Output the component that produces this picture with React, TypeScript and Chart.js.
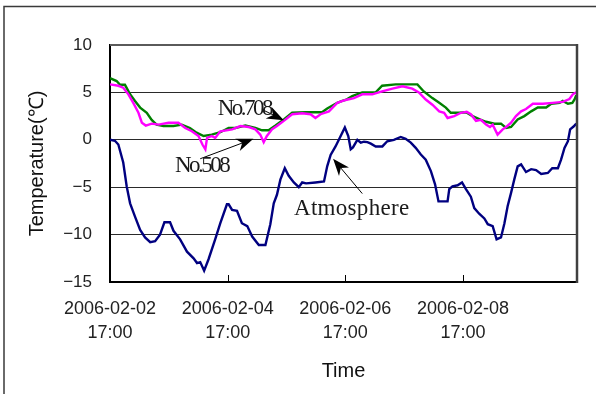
import React, { useEffect, useRef } from "react";
import { Chart, registerables } from "chart.js";

Chart.register(...registerables);

// ---- axis / tick data ----
const X_TICK_HOURS = [0, 48, 96, 144];
const X_TICK_DATES = ["2006-02-02", "2006-02-04", "2006-02-06", "2006-02-08"];
const X_TICK_TIMES = ["17:00", "17:00", "17:00", "17:00"];
const X_MAX_HOURS = 190.5;
const Y_MIN = -15;
const Y_MAX = 10;
const Y_STEP = 5;
const X_TITLE = "Time";
const Y_TITLE = "Temperature(℃)";

// ---- series: hours since 2006-02-02 17:00, temperature (℃) ----
const atmHours = [0, 2, 3.4, 5.4, 6.8, 8.2, 10.2, 12.3, 14.3, 16.4, 18.4, 20.4, 22.2, 24.5, 25.9, 28.6, 31.4, 34.1, 35.5, 36.8, 38.4, 40.2, 42.9, 45, 47.7, 48.4, 49.8, 51.8, 53.8, 56, 58, 60.7, 63.4, 65.4, 66.8, 68.1, 69.5, 71.3, 72.9, 75, 77, 78.4, 80, 83.8, 87.3, 88.6, 90, 92, 94.1, 95.8, 97.2, 98.2, 99.1, 100.9, 102.3, 103.6, 105, 106.4, 108.4, 111.1, 113.1, 115.8, 118.6, 120.6, 122.7, 124.7, 126.8, 128.8, 130.9, 132.6, 134, 137.7, 138.4, 139.7, 141.8, 143.6, 145.2, 147.2, 148.6, 150.6, 152.7, 154.1, 156.1, 157.7, 159.5, 160.9, 162.2, 163.6, 164.9, 166.3, 167.7, 169.7, 171.8, 173.8, 175.9, 178.6, 180.4, 182.7, 184, 185.4, 186.8, 187.7, 189.1, 190.2];
const atmTemps = [0, -0.1, -0.5, -2.4, -4.9, -6.7, -8.1, -9.5, -10.3, -10.8, -10.7, -10.0, -8.7, -8.7, -9.6, -10.5, -11.8, -12.5, -13.0, -12.9, -13.8, -12.6, -10.5, -8.8, -6.8, -6.8, -7.4, -7.5, -8.8, -9.1, -10.2, -11.1, -11.1, -8.9, -6.7, -5.8, -4.2, -3.0, -3.8, -4.5, -5.0, -4.5, -4.6, -4.5, -4.4, -2.8, -1.6, -0.7, 0.4, 1.3, 0.4, -1.0, -0.8, 0, -0.3, -0.2, -0.25, -0.4, -0.7, -0.7, -0.15, 0, 0.3, 0.1, -0.3, -0.85, -1.55, -2.1, -3.3, -4.7, -6.5, -6.5, -5.2, -4.9, -4.8, -4.5, -5.2, -6.0, -7.2, -7.8, -8.3, -8.9, -9.1, -10.5, -10.3, -8.8, -7.0, -5.6, -4.2, -2.8, -2.6, -3.4, -3.1, -3.2, -3.6, -3.5, -3.0, -3.0, -2.1, -0.85, -0.15, 1.1, 1.4, 1.7];

const no708Hours = [0, 2.7, 4.1, 6.1, 8.2, 10.2, 12.3, 15, 17, 19, 21.8, 25.9, 29.3, 32.6, 35.3, 38.2, 41.5, 45, 48.4, 51.1, 55.2, 59.3, 62, 64.7, 67.5, 70.9, 74.3, 79.8, 86.5, 88.6, 92.7, 94.7, 96.1, 98.8, 102.9, 108.4, 111, 116.6, 125.4, 128, 131.5, 134.3, 137, 139, 142.5, 145.2, 147.9, 151.3, 153.4, 156.8, 159.5, 161.6, 163.6, 166.3, 169, 171.8, 174.5, 177.9, 180, 183.4, 184.7, 186.8, 188.6, 189.5, 190.2];
const no708Temps = [6.5, 6.2, 5.8, 5.8, 4.8, 4.1, 3.4, 2.85, 2.1, 1.6, 1.45, 1.45, 1.6, 1.25, 0.75, 0.4, 0.55, 0.8, 1.25, 1.25, 1.5, 1.25, 1.0, 1.0, 1.5, 2.15, 2.85, 2.9, 2.9, 3.3, 3.9, 4.1, 4.2, 4.6, 5.0, 5.0, 5.7, 5.85, 5.85, 5.1, 4.4, 3.9, 3.4, 2.85, 2.85, 2.9, 2.5, 2.1, 1.9, 1.7, 1.7, 1.25, 1.35, 2.15, 2.5, 3.0, 3.4, 3.4, 3.8, 3.9, 4.1, 3.8, 3.9, 4.25, 4.7];

const no508Hours = [0, 3.4, 5.4, 7.5, 9.5, 11.6, 13, 14.6, 17, 19.8, 23.9, 27.9, 30.7, 33.4, 36.1, 37.7, 38.9, 39.6, 41.5, 42.9, 45, 47.5, 49.8, 53.2, 56.6, 59.3, 61.3, 62.7, 64, 66.1, 68.1, 70.9, 74.3, 78.4, 81.8, 83.8, 85.9, 89.3, 92.7, 96.1, 99.5, 102.9, 107, 111, 115.2, 119.3, 123.3, 126, 128.8, 131.5, 134.3, 136.3, 137.7, 140.4, 143.2, 145.5, 147.2, 149.3, 151.3, 153.4, 155, 156.1, 158.1, 160.2, 161.6, 163.6, 165.6, 167.7, 169.7, 172.5, 176.6, 180.6, 184.7, 187.4, 188.8, 190.2];
const no508Temps = [5.85, 5.7, 5.5, 4.8, 3.9, 2.85, 1.8, 1.5, 1.7, 1.6, 1.8, 1.8, 1.25, 0.9, 0.4, -0.5, -1.0, 0.2, 0.4, 0.2, 0.9, 1.0, 1.1, 1.45, 1.35, 1.1, 0.55, -0.25, 0.4, 1.1, 1.45, 2.0, 2.7, 2.8, 2.7, 2.3, 2.7, 3.0, 3.9, 4.2, 4.4, 4.8, 4.8, 5.1, 5.4, 5.65, 5.4, 5.0, 4.25, 3.7, 3.0, 2.85, 2.3, 2.5, 2.85, 2.95, 2.7, 2.0, 2.1, 1.6, 1.35, 1.6, 0.55, 1.1, 1.35, 1.8, 2.5, 3.0, 3.25, 3.8, 3.8, 3.9, 4.0, 4.3, 4.8, 5.0];

const SERIES_LABELS = ["No.508", "No.708", "Atmosphere"];
const SERIES_COLORS = ["#FF00FF", "#008000", "#000080"];

// annotation layout (positions in data units: hours, ℃)
const NOTES = [
  { text: "No.708", x: 54.8, y: 3.25, spacing: -2.5, from: [62.0, 3.2], to: [70.9, 2.07] },
  { text: "No.508", x: 37.4, y: -2.75, spacing: -2.5, from: [36.8, -2.0], to: [58.5, 0.1] },
  { text: "Atmosphere", x: 98.6, y: -7.29, spacing: 0.3, from: [102.9, -5.67], to: [91.0, -2.0] },
];

const SANS = "'Liberation Sans', Arial, sans-serif";
const SERIF = "'Liberation Serif', 'Times New Roman', serif";

const toPoints = (xs: number[], ys: number[]) => xs.map((x, i) => ({ x, y: ys[i] }));

function drawArrow(ctx: CanvasRenderingContext2D, x1: number, y1: number, x2: number, y2: number) {
  const ang = Math.atan2(y2 - y1, x2 - x1);
  const len = 17;
  const half = 6.5;
  const notch = 12;
  ctx.save();
  ctx.strokeStyle = "#000";
  ctx.lineWidth = 1;
  ctx.beginPath();
  ctx.moveTo(x1, y1);
  ctx.lineTo(x2 - Math.cos(ang) * notch, y2 - Math.sin(ang) * notch);
  ctx.stroke();
  ctx.translate(x2, y2);
  ctx.rotate(ang);
  ctx.fillStyle = "#000";
  ctx.beginPath();
  ctx.moveTo(0, 0);
  ctx.lineTo(-len, -half);
  ctx.lineTo(-notch, 0);
  ctx.lineTo(-len, half);
  ctx.closePath();
  ctx.fill();
  ctx.restore();
}

const decorPlugin = {
  id: "decor",
  beforeDraw(chart: any) {
    const ctx = chart.ctx as CanvasRenderingContext2D;
    ctx.save();
    ctx.fillStyle = "#fff";
    ctx.fillRect(0, 0, chart.width, chart.height);
    ctx.strokeStyle = "#3a3a3a";
    ctx.lineWidth = 1.5;
    ctx.beginPath();
    ctx.moveTo(4, chart.height);
    ctx.lineTo(4, 6.5);
    ctx.lineTo(chart.width, 6.5);
    ctx.stroke();
    ctx.restore();
  },
  afterDatasetsDraw(chart: any) {
    const ctx = chart.ctx as CanvasRenderingContext2D;
    const { left, right, top, bottom } = chart.chartArea;
    const xs = chart.scales.x;
    const ys = chart.scales.y;
    ctx.save();
    // plot frame top & right
    ctx.strokeStyle = "#5a5a5a";
    ctx.lineWidth = 2;
    ctx.beginPath();
    ctx.moveTo(left, top);
    ctx.lineTo(right, top);
    ctx.stroke();
    ctx.strokeStyle = "#404040";
    ctx.lineWidth = 2.5;
    ctx.beginPath();
    ctx.moveTo(right, top - 1);
    ctx.lineTo(right, bottom + 1);
    ctx.stroke();
    // inner tick marks on x axis
    ctx.strokeStyle = "#000";
    ctx.lineWidth = 1;
    X_TICK_HOURS.forEach((h) => {
      const px = Math.round(xs.getPixelForValue(h)) + 0.5;
      ctx.beginPath();
      ctx.moveTo(px, bottom);
      ctx.lineTo(px, bottom - 7);
      ctx.stroke();
    });
    // axis titles
    ctx.fillStyle = "#111";
    ctx.font = `20px ${SANS}`;
    ctx.textAlign = "center";
    ctx.textBaseline = "middle";
    ctx.fillText(X_TITLE, (left + right) / 2, 371);
    ctx.save();
    ctx.translate(37, (top + bottom) / 2);
    ctx.rotate(-Math.PI / 2);
    ctx.fillText(Y_TITLE, 0, 0);
    ctx.restore();
    // annotations
    NOTES.forEach((n) => {
      drawArrow(
        ctx,
        xs.getPixelForValue(n.from[0]),
        ys.getPixelForValue(n.from[1]),
        xs.getPixelForValue(n.to[0]),
        ys.getPixelForValue(n.to[1])
      );
      ctx.save();
      ctx.font = `23px ${SERIF}`;
      (ctx as any).letterSpacing = `${n.spacing}px`;
      ctx.fillStyle = "#1a1a1a";
      ctx.textAlign = "center";
      ctx.textBaseline = "middle";
      ctx.fillText(n.text, xs.getPixelForValue(n.x), ys.getPixelForValue(n.y));
      ctx.restore();
    });
    ctx.restore();
  },
};

export default function App() {
  const ref = useRef<HTMLCanvasElement | null>(null);
  useEffect(() => {
    if (!ref.current) return;
    const seriesX = [no508Hours, no708Hours, atmHours];
    const seriesY = [no508Temps, no708Temps, atmTemps];
    const chart = new Chart(ref.current, {
      type: "line",
      data: {
        datasets: SERIES_LABELS.map((label, i) => ({
          label,
          data: toPoints(seriesX[i], seriesY[i]),
          borderColor: SERIES_COLORS[i],
          backgroundColor: SERIES_COLORS[i],
          borderWidth: 2.4,
          pointRadius: 0,
          tension: 0,
          fill: false,
        })),
      },
      options: {
        animation: false,
        responsive: false,
        devicePixelRatio: 1,
        layout: { padding: { top: 45, right: 19, bottom: 0, left: 0 } },
        plugins: {
          legend: { display: false },
          tooltip: { enabled: false },
          title: { display: false },
        },
        scales: {
          x: {
            type: "linear",
            min: 0,
            max: X_MAX_HOURS,
            afterFit: (s: any) => {
              s.height = 112;
            },
            afterBuildTicks: (s: any) => {
              s.ticks = X_TICK_HOURS.map((v) => ({ value: v }));
            },
            ticks: {
              autoSkip: false,
              maxRotation: 0,
              minRotation: 0,
              padding: 15,
              color: "#222",
              font: { family: SANS, size: 18, lineHeight: "24px" },
              callback: (v: any) => {
                const i = X_TICK_HOURS.indexOf(Number(v));
                return i >= 0 ? [X_TICK_DATES[i], X_TICK_TIMES[i]] : "";
              },
            },
            grid: { display: false, drawTicks: false },
            border: { display: true, color: "#000", width: 2 },
          },
          y: {
            type: "linear",
            min: Y_MIN,
            max: Y_MAX,
            afterFit: (s: any) => {
              s.width = 110;
            },
            ticks: {
              stepSize: Y_STEP,
              padding: 18,
              color: "#222",
              font: { family: SANS, size: 17 },
              callback: (v: any) => (Number(v) < 0 ? "\u2212" + Math.abs(Number(v)) : String(v)),
            },
            grid: {
              drawTicks: false,
              lineWidth: 1,
              color: (c: any) =>
                c.tick && (c.tick.value === Y_MAX || c.tick.value === Y_MIN) ? "rgba(0,0,0,0)" : "#2a2a2a",
            },
            border: { display: true, color: "#000", width: 2 },
          },
        },
      },
      plugins: [decorPlugin],
    });
    return () => chart.destroy();
  }, []);
  return (
    <div style={{ position: "fixed", left: 0, top: 0, width: 596, height: 394, background: "#fff" }}>
      <canvas ref={ref} width={596} height={394} style={{ width: 596, height: 394, display: "block" }} />
    </div>
  );
}
